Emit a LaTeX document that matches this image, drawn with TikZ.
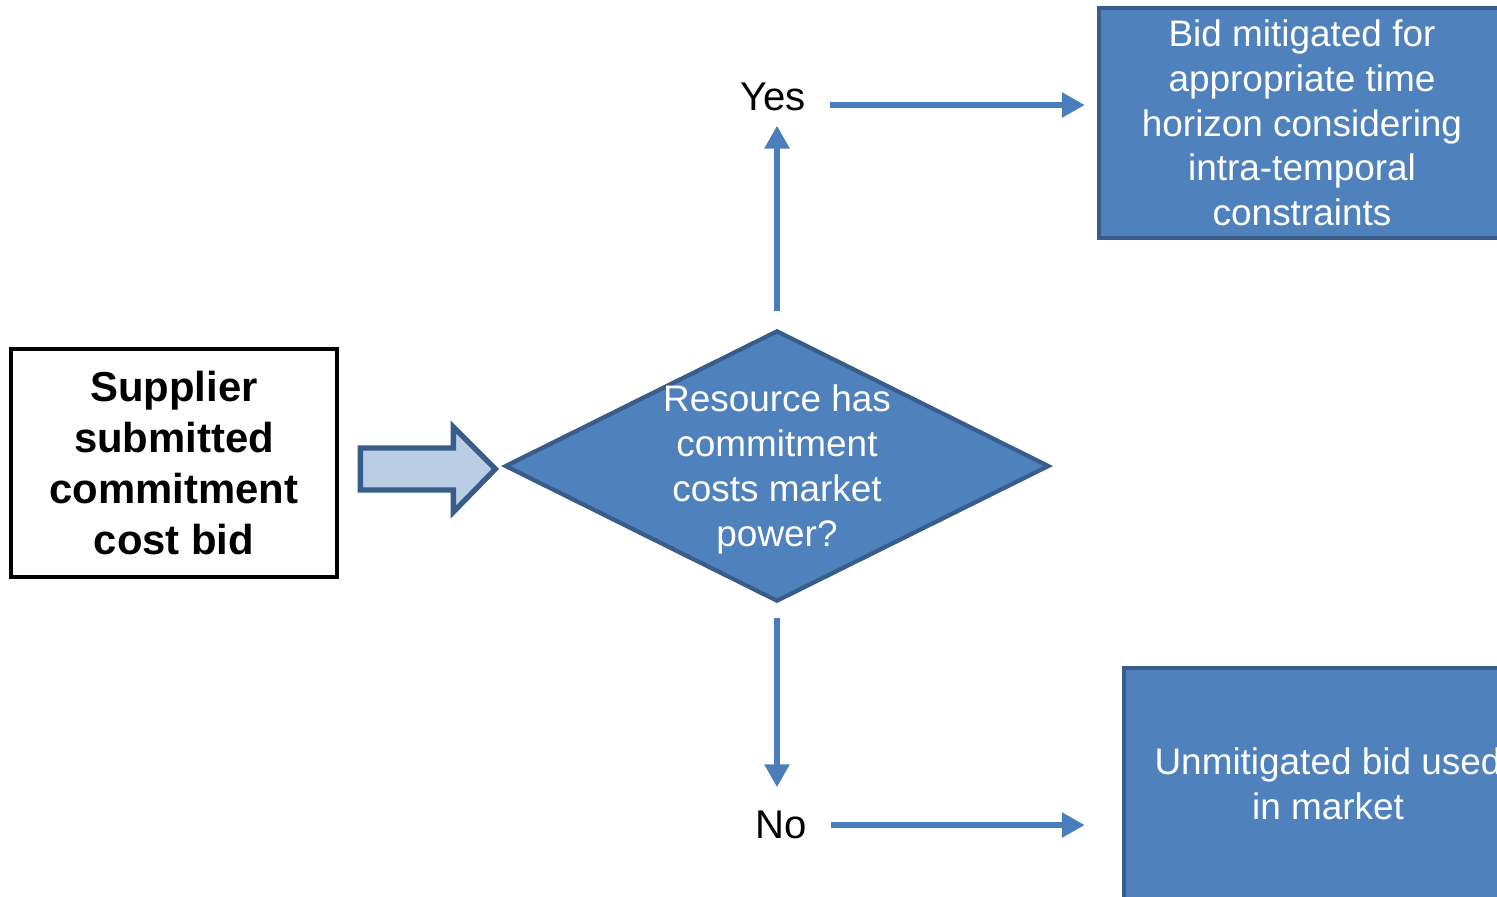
\documentclass[tikz,border=0pt]{standalone}
\usepackage{fontspec}
\setmainfont{Liberation Sans}
\usetikzlibrary{shapes.geometric,arrows.meta}
\definecolor{boxblue}{HTML}{4F81BD}
\definecolor{boxedge}{HTML}{385D8A}
\definecolor{flowblue}{HTML}{4A7EBB}
\definecolor{paleblue}{HTML}{B9CDE5}
\tikzset{
    resultbox/.style={draw=boxedge, fill=boxblue, line width=1.2pt, text=white, align=center,
        inner sep=0pt, font=\fontsize{10.5}{12.7}\selectfont},
    flow/.style={draw=flowblue, line width=1.9pt, -{Triangle[length=0.23cm,width=0.24cm]}},
    answer/.style={inner sep=0pt, font=\fontsize{11.4}{13}\selectfont},
}
\begin{document}
\begin{tikzpicture}[x=0.01cm, y=-0.01cm, line join=miter]
        \useasboundingbox (0,0) rectangle (1497,896);
        \clip (0,0) rectangle (1497,896);
        \node[draw, line width=1.3pt, minimum width=3.26cm, minimum height=2.28cm, align=center, inner sep=0pt,
            font=\fontsize{11.9}{14.5}\selectfont\bfseries] (bid) at (174,463) {Supplier\\submitted\\commitment\\cost bid};
        \node[diamond, draw=boxedge, fill=boxblue, line width=1.2pt, minimum width=5.44cm, minimum height=2.71cm,
            inner xsep=-1cm, inner ysep=-0.8cm, text=white, align=center,
            font=\fontsize{10.5}{12.8}\selectfont] (power) at (777,466) {\rule{0pt}{9.6pt}Resource has\\commitment\\costs market\\power?};
        \node[answer] (yes) at (773,97) {Yes};
        \node[answer] (no) at (781,825) {No};
        \node[resultbox, minimum width=4.06cm, minimum height=2.30cm] (mitig) at (1302,123)
            {Bid mitigated for\\appropriate time\\horizon considering\\intra-temporal\\constraints};
        \node[resultbox, minimum width=4.08cm, minimum height=2.32cm] (unmit) at (1328,784)
            {Unmitigated bid used\\in market};
        % block arrow from the bid to the test
        \draw[boxedge, fill=paleblue, line width=1.5pt] ([shift={(21,-15)}]bid.east) -- ++(93,0) -- ++(0,-21)
            -- ++(42,42) -- ++(-42,43) -- ++(0,-22) -- ++(-93,0) -- cycle;
        \draw[flow, shorten <=0.17cm, shorten >=0.14cm] (power.north) -- (power.north |- yes.south);
        \draw[flow, shorten <=0.24cm, shorten >=0.12cm] ([yshift=-0.08cm]yes.east) -- ([yshift=-0.08cm]yes.east -| mitig.west);
        \draw[flow, shorten <=0.14cm, shorten >=0.23cm] (power.south) -- (power.south |- no.north);
        \draw[flow, shorten <=0.24cm, shorten >=0.37cm] (no.east) -- (no.east -| unmit.west);
\end{tikzpicture}
\end{document}
